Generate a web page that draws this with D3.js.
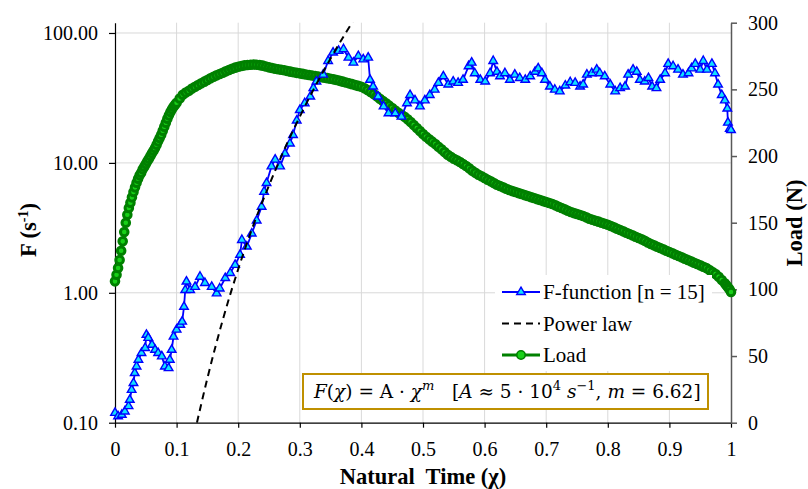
<!DOCTYPE html>
<html>
<head>
<meta charset="utf-8">
<script src="https://cdn.jsdelivr.net/npm/d3@7"></script>
<style>
body { margin: 0; background: #fff; }
svg { display: block; font-family: "Liberation Serif", "DejaVu Serif", serif; }
.grid line { stroke: #d9d9d9; stroke-width: 1; }
.axis text { font-size: 20px; fill: #000; font-family: "Liberation Serif", "DejaVu Serif", serif; }
.title { font-weight: bold; font-size: 22.5px; }
.legend text { font-size: 21px; }
</style>
</head>
<body>
<div id="chart"></div>
<script>
// F-function [n = 15], natural time vs F (log axis)
var fChi = [
  0.000,0.005,0.011,0.016,0.022,0.024,0.027,0.030,0.032,0.035,
  0.038,0.043,0.049,0.051,0.054,0.060,0.065,0.070,0.076,0.081,
  0.087,0.089,0.092,0.095,0.100,0.106,0.109,0.112,0.114,0.116,
  0.122,0.130,0.138,0.146,0.157,0.165,0.170,0.179,0.187,0.195,
  0.203,0.206,0.214,0.222,0.230,0.238,0.242,0.246,0.254,0.260,
  0.268,0.276,0.284,0.289,0.295,0.300,0.308,0.317,0.322,0.327,
  0.338,0.346,0.354,0.363,0.371,0.379,0.387,0.395,0.403,0.411,
  0.414,0.419,0.427,0.436,0.444,0.455,0.465,0.474,0.479,0.487,
  0.495,0.503,0.511,0.519,0.525,0.533,0.541,0.549,0.557,0.565,
  0.574,0.579,0.584,0.593,0.601,0.609,0.614,0.620,0.625,0.633,
  0.641,0.649,0.657,0.666,0.674,0.682,0.687,0.693,0.698,0.706,
  0.714,0.722,0.731,0.739,0.747,0.755,0.760,0.766,0.774,0.782,
  0.787,0.795,0.804,0.812,0.820,0.828,0.833,0.841,0.847,0.852,
  0.860,0.866,0.872,0.879,0.885,0.893,0.898,0.906,0.914,0.922,
  0.931,0.936,0.942,0.950,0.955,0.961,0.969,0.974,0.979,0.985,
  0.990,0.994,0.995,0.998,1.000
];
var fVal = [
  0.119,0.112,0.115,0.122,0.134,0.150,0.179,0.202,0.241,0.271,
  0.305,0.344,0.376,0.475,0.450,0.398,0.364,0.344,0.324,0.271,
  0.263,0.305,0.364,0.460,0.520,0.567,0.600,0.780,1.05,1.22,
  1.05,1.11,1.33,1.19,1.11,0.99,1.08,1.30,1.42,1.64,
  1.96,2.55,2.27,2.86,3.6,4.6,6.0,7.0,9.4,10.6,
  9.4,11.8,14.1,16.4,21.2,25.5,28.8,32.4,37.6,42.3,
  47.8,60.9,70.7,72.8,75.0,64.6,59.1,66.5,62.6,64.6,
  43.6,38.7,32.4,27.2,24.1,24.1,22.7,28.8,33.3,30.3,
  27.2,30.3,33.3,36.6,41.3,46.4,40.1,42.3,41.3,43.6,
  55.5,59.1,49.0,43.6,42.3,49.0,60.9,50.3,46.4,49.0,
  43.6,47.8,45.0,43.6,46.4,50.3,53.4,49.0,43.6,38.7,
  36.6,35.5,39.4,41.8,41.3,38.7,40.1,47.8,49.0,52.2,
  49.0,46.4,40.1,35.5,37.6,38.7,47.8,52.2,50.3,43.6,
  42.3,45.0,38.7,37.6,43.6,49.0,57.8,55.5,52.2,47.8,
  49.0,53.4,57.8,52.2,60.9,52.2,57.8,49.0,40.1,33.3,
  30.3,26.2,20.4,18.3,17.9
];

// Load (N) on the right axis: [natural time, load]
var loadPoints = [
  [0,106],[0.0025,111],[0.005,116],[0.0075,122],[0.01,129],[0.0125,136],[0.015,143],[0.0175,150],
  [0.02,156],[0.0225,161],[0.025,165],[0.0275,169],[0.03,173],[0.0325,176.5],[0.035,180],[0.0375,183],
  [0.04,185.5],[0.0425,187.5],[0.045,190],[0.0475,192],[0.05,194],[0.0525,196],[0.055,198],[0.0575,200],
  [0.06,202],[0.0625,204],[0.065,206],[0.0675,208.5],[0.07,211],[0.0725,213.5],[0.075,216],[0.0775,219],
  [0.08,222],[0.0825,225],[0.085,228],[0.0875,230.5],[0.09,233],[0.0925,235],[0.095,237],[0.0975,238.5],
  [0.100,240],[0.105,243.2],[0.110,246],[0.115,247.6],[0.120,249],[0.125,250.6],[0.130,252],[0.135,253.3],
  [0.140,254.5],[0.145,255.8],[0.150,257],[0.155,258.3],[0.160,259.5],[0.165,260.5],[0.170,261.5],[0.175,262.5],
  [0.180,263.5],[0.185,264.5],[0.190,265.5],[0.195,266.3],[0.200,267],[0.205,267.5],[0.210,268],[0.215,268.3],
  [0.220,268.5],[0.225,268.6],[0.230,268.5],[0.235,268.2],[0.240,267.8],[0.245,267.2],[0.250,266.5],[0.255,266],
  [0.260,265.5],[0.265,265.1],[0.270,264.7],[0.275,264.3],[0.280,263.8],[0.285,263.3],[0.290,262.8],[0.295,262.4],
  [0.300,262],[0.305,261.6],[0.310,261.2],[0.315,260.8],[0.320,260.4],[0.325,260],[0.330,259.6],[0.335,259.2],
  [0.340,258.8],[0.345,258.4],[0.350,258],[0.355,257.5],[0.360,257],[0.365,256.4],[0.370,255.8],[0.375,255.2],
  [0.380,254.5],[0.385,253.9],[0.390,253.2],[0.395,252.6],[0.400,252],[0.405,250.8],[0.410,249.5],[0.415,248],
  [0.420,246.5],[0.425,244.8],[0.430,243],[0.435,241.2],[0.440,239.5],[0.445,237.8],[0.450,236],[0.455,234.2],
  [0.460,232.5],[0.465,231],[0.470,229.5],[0.475,227.5],[0.480,225.5],[0.485,223.2],[0.490,221],[0.495,218.7],
  [0.500,216.5],[0.505,214.5],[0.510,212.5],[0.515,210.8],[0.520,209],[0.525,207],[0.530,205],[0.535,203],
  [0.540,201],[0.545,199.5],[0.550,198],[0.555,196.8],[0.560,195.5],[0.565,194],[0.570,192.5],[0.575,190.8],
  [0.580,189],[0.585,187.5],[0.590,186],[0.595,184.8],[0.600,183.5],[0.605,182.2],[0.610,181],[0.615,179.7],
  [0.620,178.5],[0.625,177.5],[0.630,176.5],[0.635,175.5],[0.640,174.5],[0.645,173.7],[0.650,173],[0.655,172.2],
  [0.660,171.5],[0.665,170.7],[0.670,170],[0.675,169.2],[0.680,168.5],[0.685,167.7],[0.690,167],[0.695,166.2],
  [0.700,165.5],[0.705,164.8],[0.710,164],[0.715,163],[0.720,162],[0.725,161],[0.730,160],[0.735,159],
  [0.740,158],[0.745,157.2],[0.750,156.5],[0.755,155.8],[0.760,155],[0.765,154],[0.770,153],[0.775,152.2],
  [0.780,151.5],[0.785,150.8],[0.790,150],[0.795,149.2],[0.800,148.5],[0.805,147.5],[0.810,146.5],[0.815,145.5],
  [0.820,144.5],[0.825,143.5],[0.830,142.5],[0.835,141.5],[0.840,140.5],[0.845,139.5],[0.850,138.5],[0.855,137.5],
  [0.860,136.5],[0.865,135.2],[0.870,134],[0.875,133],[0.880,132],[0.885,131],[0.890,130],[0.895,129],
  [0.900,128],[0.905,127],[0.910,126],[0.915,125],[0.920,124],[0.925,123],[0.930,122],[0.935,121],
  [0.940,120],[0.945,119],[0.950,118],[0.955,117],[0.960,116],[0.965,114.5],[0.970,113],[0.975,111.5],
  [0.980,109.5],[0.985,107],[0.990,104.5],[0.9925,103],[0.995,101.5],[0.9975,100],[1.0,98]
];

// power law fit
var powerChi = [0.133,0.15,0.175,0.2,0.225,0.25,0.275,0.3,0.325,0.35,0.375,0.39];
var powerVal = [0.10,0.22,0.62,1.52,3.35,6.7,12.7,22.7,38.9,63.7,101,131];

var xTicks = [0,0.1,0.2,0.3,0.4,0.5,0.6,0.7,0.8,0.9,1];
var fTicks = [0.1,1,10,100];
var loadTicks = [0,50,100,150,200,250,300];
var legendLabels = ["F-function [n = 15]", "Power law", "Load"];
var eqParts = [
  ["F","i"],["(",""],["χ","i"],[") = A · ",""],["χ","i"],["m","si"],
  ["   [",""],["A","i"],[" ≈ 5 · 10",""],["4","s"],[" ",""],["s","i"],["−1","s"],
  [", ",""],["m","i"],[" = 6.62]",""]
];

var width = 808, height = 489;
var plotLeft = 115, plotRight = 731, plotTop = 22.7, plotBottom = 422.7;

var x = d3.scaleLinear().domain([0, 1]).range([plotLeft, plotRight]);
var yF = d3.scaleLog().domain([0.1, 120]).range([plotBottom, plotTop]);
var yLoad = d3.scaleLinear().domain([0, 300]).range([plotBottom, plotTop]);

var svg = d3.select("#chart")
    .append("svg")
    .attr("width", width)
    .attr("height", height);

svg.append("clipPath")
    .attr("id", "plotclip")
    .append("rect")
    .attr("x", plotLeft).attr("y", plotTop)
    .attr("width", plotRight - plotLeft).attr("height", plotBottom - plotTop);

// gridlines
var grid = svg.append("g").attr("class", "grid");
grid.selectAll("line.v")
    .data(xTicks.filter(d => d > 0 && d < 1))
    .enter().append("line")
    .attr("class", "v")
    .attr("x1", d => x(d)).attr("x2", d => x(d))
    .attr("y1", plotTop).attr("y2", plotBottom);
grid.selectAll("line.h")
    .data(fTicks.filter(d => d > 0.1))
    .enter().append("line")
    .attr("class", "h")
    .attr("x1", plotLeft).attr("x2", plotRight)
    .attr("y1", d => yF(d)).attr("y2", d => yF(d));

// axes
var xAxis = svg.append("g")
    .attr("class", "axis")
    .attr("transform", "translate(0," + plotBottom + ")")
    .call(d3.axisBottom(x).tickValues(xTicks).tickSize(5).tickSizeOuter(0).tickPadding(14)
          .tickFormat(d => (d === 0 || d === 1) ? d : d.toFixed(1)));

var fAxis = svg.append("g")
    .attr("class", "axis")
    .attr("transform", "translate(" + plotLeft + ",0)")
    .call(d3.axisLeft(yF).tickValues(fTicks).tickSize(6).tickSizeOuter(0).tickPadding(11)
          .tickFormat(d3.format(".2f")));

var loadAxis = svg.append("g")
    .attr("class", "axis")
    .attr("transform", "translate(" + plotRight + ",0)")
    .call(d3.axisRight(yLoad).tickValues(loadTicks).tickSize(6).tickSizeOuter(0).tickPadding(11));

xAxis.selectAll("path, line").attr("stroke", "#000").attr("stroke-width", 1.2);
fAxis.selectAll("path, line").attr("stroke", "#000").attr("stroke-width", 1.2);
loadAxis.selectAll("path, line").attr("stroke", "#595959").attr("stroke-width", 1.5);

// load series
svg.append("path")
    .datum(loadPoints)
    .attr("fill", "none")
    .attr("stroke", "#008000")
    .attr("stroke-width", 3)
    .attr("d", d3.line().x(d => x(d[0])).y(d => yLoad(d[1])));
svg.selectAll("circle.load")
    .data(loadPoints)
    .enter().append("circle")
    .attr("class", "load")
    .attr("cx", d => x(d[0]))
    .attr("cy", d => yLoad(d[1]))
    .attr("r", 3.8)
    .attr("fill", "#18d018")
    .attr("stroke", "#008000")
    .attr("stroke-width", 3);

// F-function series
var fData = fChi.map((c, i) => ({chi: c, v: fVal[i]}));
var tri = d3.symbol().type(d3.symbolTriangle).size(32);
svg.append("path")
    .datum(fData)
    .attr("fill", "none")
    .attr("stroke", "#0000ff")
    .attr("stroke-width", 1.8)
    .attr("d", d3.line().x(d => x(d.chi)).y(d => yF(d.v)));
svg.selectAll("path.ff")
    .data(fData)
    .enter().append("path")
    .attr("class", "ff")
    .attr("transform", d => "translate(" + x(d.chi) + "," + yF(d.v) + ")")
    .attr("d", tri)
    .attr("fill", "#10e0ff")
    .attr("stroke", "#0000ff")
    .attr("stroke-width", 1.4);

// power law
var powerData = powerChi.map((c, i) => ({chi: c, v: powerVal[i]}));
svg.append("path")
    .datum(powerData)
    .attr("clip-path", "url(#plotclip)")
    .attr("fill", "none")
    .attr("stroke", "#000")
    .attr("stroke-width", 2)
    .attr("stroke-dasharray", "7,5")
    .attr("d", d3.line().curve(d3.curveMonotoneX).x(d => x(d.chi)).y(d => yF(d.v)));

// legend
var legend = svg.append("g").attr("class", "legend");
legend.append("rect")
    .attr("x", 495).attr("y", 275).attr("width", 217).attr("height", 96)
    .attr("fill", "#fff");
legendLabels.forEach(function(label, i) {
    var ly = 292 + i * 31.5;
    var g = legend.append("g");
    g.append("line")
        .attr("x1", 502).attr("x2", 540).attr("y1", ly).attr("y2", ly)
        .attr("stroke", ["#0000ff", "#000", "#008000"][i])
        .attr("stroke-width", [1.8, 2, 3][i])
        .attr("stroke-dasharray", i == 1 ? "7,5" : null);
    if (i == 0) {
        g.append("path").attr("transform", "translate(521," + ly + ")")
            .attr("d", tri).attr("fill", "#10e0ff").attr("stroke", "#0000ff").attr("stroke-width", 1.4);
    }
    if (i == 2) {
        g.append("circle").attr("cx", 521).attr("cy", ly).attr("r", 4.2)
            .attr("fill", "#18d018").attr("stroke", "#008000").attr("stroke-width", 1.6);
    }
    g.append("text")
        .attr("x", 543).attr("y", ly).attr("dy", "0.34em")
        .text(label);
});

// equation box
svg.append("rect")
    .attr("x", 303).attr("y", 374).attr("width", 405).attr("height", 35)
    .attr("fill", "#fff")
    .attr("stroke", "#bf9000")
    .attr("stroke-width", 2);
var eq = svg.append("text")
    .attr("x", 314).attr("y", 398)
    .attr("font-family", "'DejaVu Serif', serif")
    .attr("font-size", 18.5)
    .style("white-space", "pre");
var raised = false;
eqParts.forEach(function(p) {
    var sup = p[1].indexOf("s") >= 0;
    var t = eq.append("tspan").text(p[0]);
    if (p[1].indexOf("i") >= 0) t.attr("font-style", "italic");
    if (sup) t.attr("font-size", 13);
    if (sup && !raised) t.attr("dy", -8);
    if (!sup && raised) t.attr("dy", 8);
    raised = sup;
});

// axis titles
svg.append("text")
    .attr("class", "title")
    .attr("x", 423).attr("y", 484)
    .attr("text-anchor", "middle")
    .style("white-space", "pre")
    .text("Natural  Time (χ)");

var fTitle = svg.append("text")
    .attr("class", "title")
    .attr("transform", "translate(36,230) rotate(-90)")
    .attr("text-anchor", "middle");
fTitle.append("tspan").text("F (s");
fTitle.append("tspan").attr("font-size", 14).attr("dy", -8).text("-1");
fTitle.append("tspan").attr("dy", 8).text(")");

svg.append("text")
    .attr("class", "title")
    .attr("transform", "translate(802,223) rotate(-90)")
    .attr("text-anchor", "middle")
    .text("Load (N)");
</script>
</body>
</html>
